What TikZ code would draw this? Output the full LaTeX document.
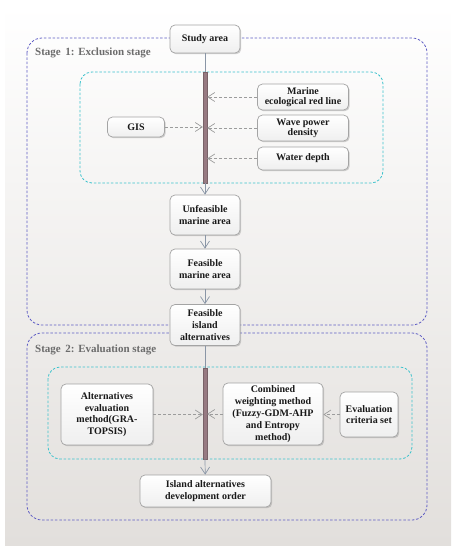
\documentclass[tikz,border=0pt]{standalone}
\usepackage{fontspec}
\setmainfont{Liberation Serif}
\usetikzlibrary{arrows.meta, positioning, shadows, calc}

\definecolor{stageblue}{HTML}{5E5CC4}
\definecolor{innercyan}{HTML}{3CC2CC}
\definecolor{boxgray}{HTML}{A4A4A4}
\definecolor{boxfill}{HTML}{EFEFEF}
\definecolor{barmauve}{HTML}{977A82}
\definecolor{linegray}{HTML}{8A96A6}
\definecolor{dashgray}{HTML}{9C9C9C}
\definecolor{labelgray}{HTML}{6C6C6C}
\definecolor{panelbottom}{HTML}{E2DFDC}

\newcommand{\boxfont}{\fontsize{10}{11.8}\selectfont\bfseries}

\begin{document}
\begin{tikzpicture}[
    x=1pt, y=-1pt,
    box/.style={rectangle, rounded corners=5pt, draw=boxgray, line width=0.7pt,
        top color=white, bottom color=boxfill, align=center, inner sep=2pt,
        font=\boxfont, text=black!90,
        drop shadow={opacity=0.35, shadow xshift=1.2pt, shadow yshift=-1.2pt}},
    bar/.style={rectangle, fill=barmauve, draw=barmauve!80!black, line width=0.3pt,
        minimum width=4pt, inner sep=0pt},
    stage/.style={draw=stageblue, line width=0.8pt, dash pattern=on 2.5pt off 1.8pt,
        rounded corners=15pt},
    inner/.style={draw=innercyan, line width=0.8pt, dash pattern=on 2.5pt off 1.8pt,
        rounded corners=12pt},
    stagelabel/.style={anchor=west, font=\fontsize{11}{13}\selectfont\bfseries,
        text=labelgray, inner sep=0pt},
    flow/.style={draw=linegray, line width=0.7pt, -{Straight Barb[length=7pt, width=9pt]}},
    input/.style={draw=dashgray, line width=0.7pt, dash pattern=on 3pt off 2pt,
        -{Straight Barb[length=7pt, width=9pt]}}
]
    % Panel
    \useasboundingbox (0,0) rectangle (456,550);
    \shade[top color=white, bottom color=panelbottom] (5,5) rectangle (451,545);

    % Stage frames
    \draw[stage] (27,38) rectangle (427,325);
    \draw[stage] (27,333) rectangle (427,520);
    \draw[inner] (80,72) rectangle (383,183);
    \draw[inner] (48,367) rectangle (412,459);
    \node[stagelabel] (s1label) at (35,53) {Stage\, 1: Exclusion stage};
    \node[stagelabel] (s2label) at (35,350) {Stage\, 2: Evaluation stage};

    % Stage 1
    \node[box, minimum width=70pt, minimum height=28pt] (study) at (205,39) {Study area};
    \node[bar, minimum height=111pt] (bar1) at (205,127.5) {};
    \node[box, minimum width=91pt, minimum height=26pt] (marine) at (303,97) {Marine\\[-1.5pt]ecological red line};
    \node[box, minimum width=91pt, minimum height=26pt] (wave) at (303,128) {Wave power\\[-1.5pt]density};
    \node[box, minimum width=91pt, minimum height=23pt] (water) at (303,158.5) {Water depth};
    \node[box, minimum width=57pt, minimum height=20pt] (gis) at (136,127) {GIS};
    \node[box, minimum width=70pt, minimum height=40pt] (unfeas) at (205,215) {Unfeasible\\marine area};
    \node[box, minimum width=70pt, minimum height=40pt] (feas) at (205,269) {Feasible\\marine area};
    \node[box, minimum width=70pt, minimum height=41pt] (island) at (205,325) {Feasible\\island\\alternatives};

    % Stage 2
    \node[bar, minimum height=91pt] (bar2) at (205,413.5) {};
    \node[box, minimum width=92pt, minimum height=61pt] (altmeth) at (107,414.5) {Alternatives\\evaluation\\method(GRA-\\TOPSIS)};
    \node[box, minimum width=100pt, minimum height=62pt] (combined) at (273,414) {Combined\\weighting method\\(Fuzzy-GDM-AHP\\and Entropy\\method)};
    \node[box, minimum width=58pt, minimum height=45pt] (criteria) at (369,414.5) {Evaluation\\criteria set};
    \node[box, minimum width=131pt, minimum height=32pt] (order) at (205.5,491) {Island alternatives\\development order};

    % Main flow
    \draw[draw=linegray, line width=0.7pt] (study) -- (bar1.north);
    \draw[flow] (bar1.south) -- (unfeas);
    \draw[flow] (unfeas) -- (feas);
    \draw[flow] (feas) -- (island);
    \draw[draw=linegray, line width=0.7pt] (island) -- (bar2.north);
    \draw[flow] (bar2.south) -- (order);

    % Inputs
    \draw[input] (marine.west) -- (bar1.east |- marine.west);
    \draw[input] (wave.west) -- (bar1.east |- wave.west);
    \draw[input] (water.west) -- (bar1.east |- water.west);
    \draw[input] (gis.east) -- (bar1.west |- gis.east);
    \draw[input] (altmeth.east) -- (bar2.west |- altmeth.east);
    \draw[input] (combined.west) -- (bar2.east |- combined.west);
    \draw[input] (criteria.west) -- (combined.east |- criteria.west);
\end{tikzpicture}
\end{document}
